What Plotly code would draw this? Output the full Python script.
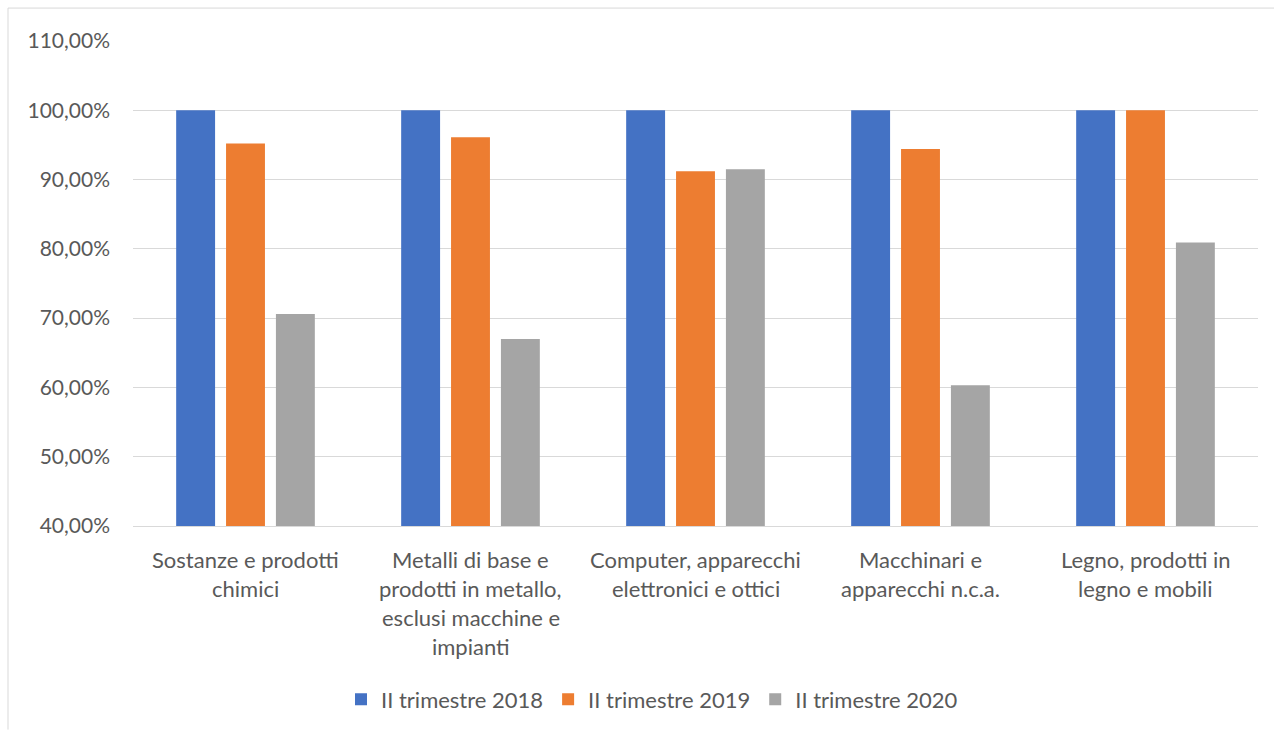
import plotly.graph_objects as go

categories = [
    "Sostanze e prodotti<br>chimici",
    "Metalli di base e<br>prodotti in metallo,<br>esclusi macchine e<br>impianti",
    "Computer, apparecchi<br>elettronici e ottici",
    "Macchinari e<br>apparecchi n.c.a.",
    "Legno, prodotti in<br>legno e mobili",
]
series_names = ["II trimestre 2018", "II trimestre 2019", "II trimestre 2020"]
values_2018 = [1.000, 1.000, 1.000, 1.000, 1.000]
values_2019 = [0.952, 0.961, 0.912, 0.944, 1.000]
values_2020 = [0.706, 0.670, 0.915, 0.603, 0.809]
colors = ["#4472C4", "#ED7D31", "#A5A5A5"]

FONT = "Lato"
TXT = "#595959"
TICK_SIZE = 21
LABEL_SIZE = 22

L, R, T, B = 133, 16, 41, 204
PW, PH = 1274 - L - R, 731 - T - B

x_idx = list(range(len(categories)))

fig = go.Figure()
for name, vals, col in zip(series_names, [values_2018, values_2019, values_2020], colors):
    fig.add_trace(go.Bar(x=x_idx, y=vals, name=name, marker=dict(color=col, line=dict(width=0))))

# category labels, one annotation per line for Excel-like line spacing
annotations = []
LINE_H = 29
for i, cat in enumerate(categories):
    for j, line in enumerate(cat.split("<br>")):
        annotations.append(dict(
            x=i, xref="x", y=0, yref="paper", yanchor="top",
            yshift=-18 - j * LINE_H, text=line, showarrow=False,
            font=dict(family=FONT, size=LABEL_SIZE, color=TXT),
        ))

fig.update_layout(
    width=1274, height=731,
    margin=dict(l=L, r=R, t=T, b=B),
    paper_bgcolor="white", plot_bgcolor="white",
    separators=",.",
    barmode="group", bargap=0.335, bargroupgap=0.22,
    font=dict(family=FONT, size=LABEL_SIZE, color=TXT),
    annotations=annotations,
    showlegend=True,
    legend=dict(
        orientation="h", x=(652 - L) / PW, xanchor="center", y=-0.355, yanchor="middle",
        font=dict(family=FONT, size=LABEL_SIZE, color=TXT),
        itemwidth=30, tracegroupgap=0,
    ),
    xaxis=dict(
        range=[-0.5, 4.5], showticklabels=False, showgrid=False, zeroline=False,
        showline=True, linecolor="#d9d9d9", linewidth=1, ticks="",
    ),
    yaxis=dict(
        range=[0.4, 1.1], dtick=0.1, tick0=0.4, tickformat=".2%",
        showgrid=True, gridcolor="#d9d9d9", gridwidth=1, zeroline=False,
        showline=False, ticks="", ticklabelstandoff=22,
        tickfont=dict(family=FONT, size=TICK_SIZE, color=TXT),
    ),
    shapes=[
        dict(type="line", xref="paper", yref="paper", x0=(8 - L) / PW, x1=(8 - L) / PW,
             y0=(T + PH - 731) / PH, y1=(T + PH - 8) / PH, line=dict(color="#d9d9d9", width=1)),
        dict(type="line", xref="paper", yref="paper", x0=(8 - L) / PW, x1=(1274 - L) / PW,
             y0=(T + PH - 8) / PH, y1=(T + PH - 8) / PH, line=dict(color="#d9d9d9", width=1)),
    ],
)

fig.write_html("out.html")
